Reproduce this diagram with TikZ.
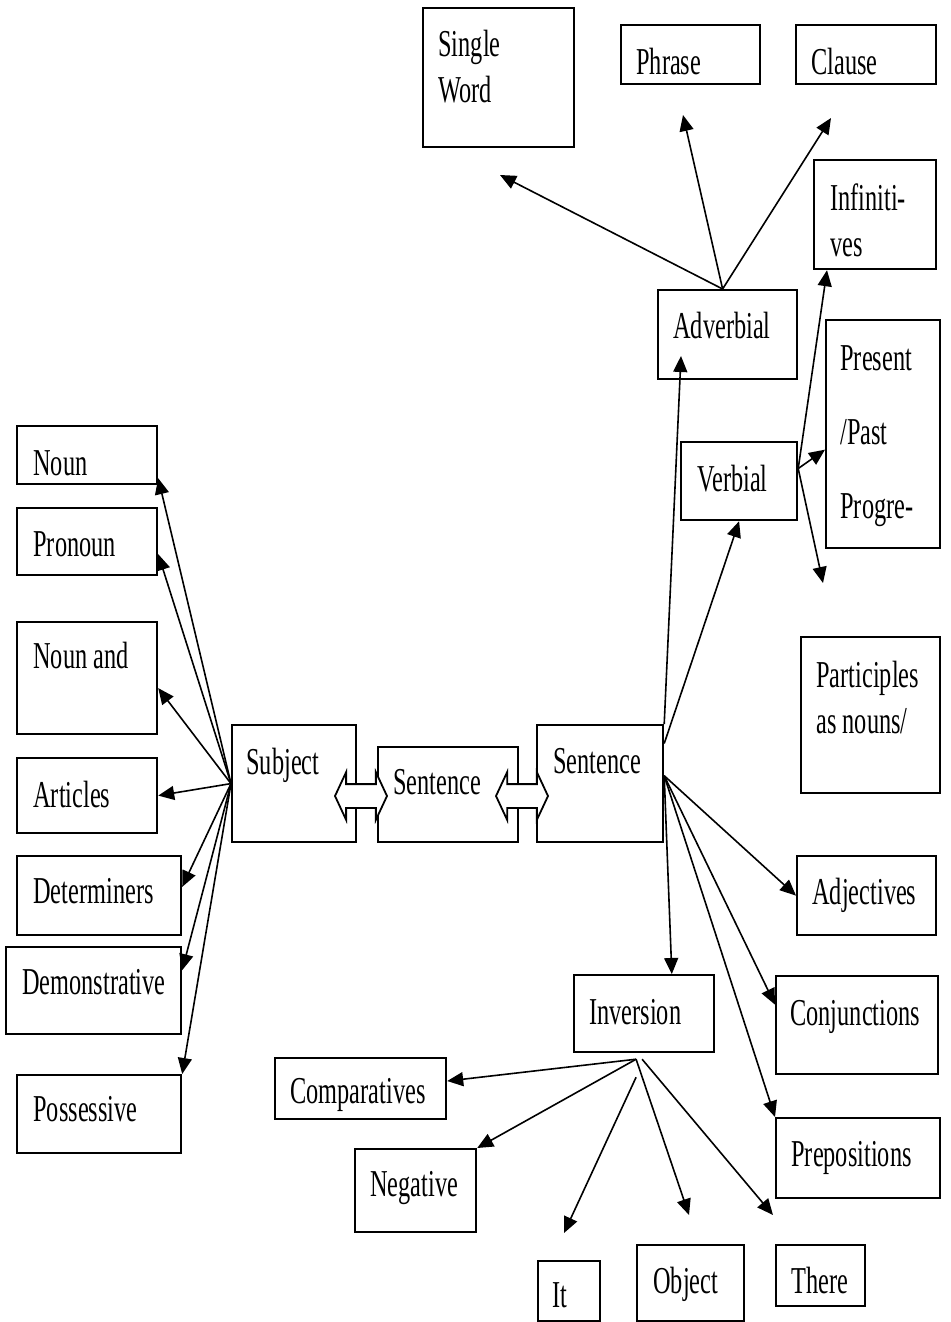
\documentclass[tikz,border=0pt]{standalone}
\usepackage{fontspec}
\setmainfont[FakeStretch=0.64]{Liberation Serif}
\usetikzlibrary{arrows.meta, shapes.arrows}

\begin{document}
\begin{tikzpicture}[
    x=0.5pt, y=-0.5pt,
    box/.style={draw, line width=1.1pt, inner sep=0pt, anchor=north west},
    txt/.style={anchor=north west, inner sep=0pt, align=left,
                font=\fontsize{19}{23}\selectfont},
    link/.style={-{Triangle[length=8pt, width=7pt]}, line width=0.8pt},
    dbl/.style={double arrow, draw, fill=white, line width=0.9pt,
                inner sep=5.5pt, double arrow head extend=6pt,
                double arrow tip angle=130, minimum height=26pt}
  ]
  \useasboundingbox (0,0) rectangle (950,1322);
  % boxes: name / corners / text position / text
  \foreach \n/\xa/\ya/\xb/\yb/\tx/\ty/\t in {
      sw/422/7/573/146/438/30/{Single\\Word},
      ph/620/24/759/83/636/48/Phrase,
      cl/795/24/935/83/811/48/Clause,
      inf/813/159/935/268/830/183/{Infiniti-\\ves},
      adv/657/289/796/378/673/312/Adverbial,
      pres/825/319/939/547/840/345/{Present\\[14pt]/Past\\[14pt]Progre-},
      verb/680/441/796/519/697/465/Verbial,
      part/800/636/939/792/816/661/{Participles\\as nouns/},
      adj/796/855/935/934/812/878/Adjectives,
      conj/775/975/937/1073/790/1000/Conjunctions,
      prep/775/1117/939/1197/791/1141/Prepositions,
      inv/573/974/713/1051/589/999/Inversion,
      comp/274/1057/445/1118/290/1078/Comparatives,
      neg/354/1148/475/1231/370/1171/Negative,
      it/537/1260/599/1320/552/1282/It,
      obj/636/1244/743/1320/653/1267/Object,
      there/775/1244/864/1305/791/1267/There,
      noun/16/425/156/483/33/450/Noun,
      pron/16/507/156/574/33/531/Pronoun,
      nand/16/621/156/733/33/642/Noun and,
      art/16/757/156/832/33/781/Articles,
      det/16/855/180/934/33/878/Determiners,
      dem/5/946/180/1033/22/969/Demonstrative,
      poss/16/1074/180/1152/33/1096/Possessive,
      subj/231/724/355/841/246/748/Subject,
      sent/377/746/517/841/393/769/Sentence,
      so/536/724/662/841/553/748/Sentence} {
    \node[box, minimum width={(\xb-\xa)*0.5pt},
          minimum height={(\yb-\ya)*0.5pt}] (\n) at (\xa,\ya) {};
    \node[txt] (\n-t) at (\tx,\ty) {\t};
  }
  % loose arrow ends
  \coordinate (swTip) at (500,175);
  \coordinate (phTip) at (683,115);
  \coordinate (clTip) at (831,118);
  \coordinate (advTip) at (681,356);
  \coordinate (partTip) at (823,583);
  \coordinate (itTip) at (564,1233);
  \coordinate (objTip) at (689,1215);
  \coordinate (thereTip) at (773,1215);
  % adverbial
  \foreach \t in {swTip, phTip, clTip}
    \draw[link] ([xshift=-2.5pt]adv.north) -- (\t);
  % subject side
  \foreach \t in {noun.-18, pron.-10, nand.-8, art.east, det.6, dem.13, poss.north east}
    \draw[link] (subj.west) -- (\t);
  % predicate side
  \draw[link] (so.north east) -- (advTip);
  \draw[link] (so.32) -- (verb.south);
  \foreach \t in {adj.west, conj.166, prep.north west, inv.55}
    \draw[link] (so.7) -- (\t);
  % verbial
  \draw[link] (verb.12) -- ([xshift=7pt]inf.south west);
  \draw[link] (verb.12) -- (pres.195);
  \draw[link] (verb.12) -- (partTip);
  % inversion
  \draw[link] ([xshift=-4pt,yshift=-3pt]inv.south) -- (comp.5);
  \draw[link] ([xshift=-4pt,yshift=-3pt]inv.south) -- (neg.north east);
  \draw[link] ([xshift=-4pt,yshift=-12pt]inv.south) -- (itTip);
  \draw[link] ([xshift=-4pt,yshift=-3pt]inv.south) -- (objTip);
  \draw[link] ([xshift=-1pt,yshift=-3pt]inv.south) -- (thereTip);
  % double arrows
  \node[dbl] (d1) at (361,796) {};
  \node[dbl] (d2) at (522,796) {};
\end{tikzpicture}
\end{document}
